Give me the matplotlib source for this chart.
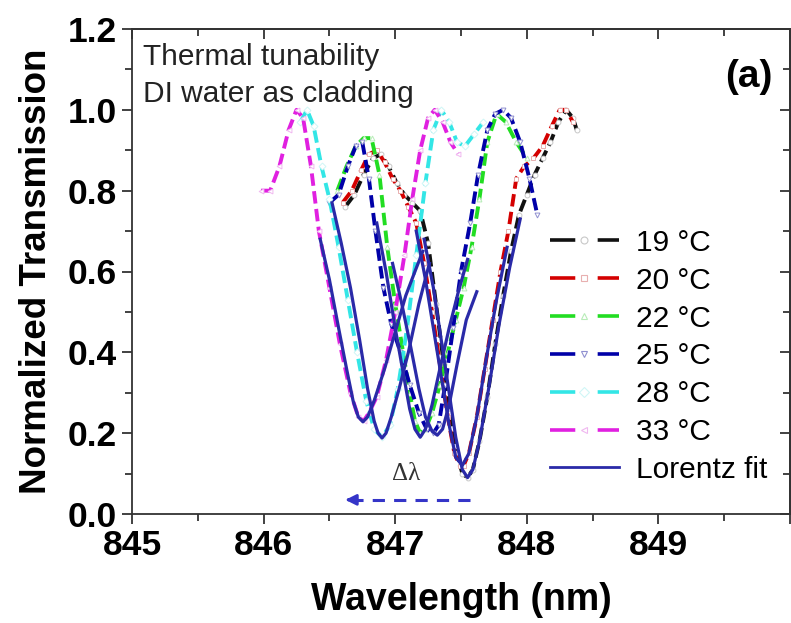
import matplotlib
matplotlib.use('Agg')
import matplotlib.pyplot as plt
from matplotlib.lines import Line2D
from matplotlib.ticker import MultipleLocator

plt.rcParams['font.family'] = ['Liberation Sans', 'DejaVu Sans']

# ---------------- data ----------------
labels = ['19 °C', '20 °C', '22 °C', '25 °C', '28 °C', '33 °C']

wl_19 = [846.62, 846.69, 846.76, 846.83, 846.89, 846.95, 847.01, 847.07, 847.13, 847.19, 847.25, 847.31,
         847.37, 847.42, 847.47, 847.51, 847.55, 847.59, 847.64, 847.70, 847.76, 847.82, 847.88, 847.94,
         848.00, 848.06, 848.12, 848.18, 848.24, 848.30, 848.35, 848.38]
tr_19 = [0.76, 0.79, 0.84, 0.88, 0.89, 0.86, 0.82, 0.79, 0.77, 0.75, 0.67, 0.52,
         0.37, 0.25, 0.15, 0.10, 0.09, 0.11, 0.18, 0.29, 0.42, 0.54, 0.65, 0.74,
         0.79, 0.84, 0.88, 0.92, 0.97, 1.00, 0.98, 0.95]

wl_20 = [846.60, 846.67, 846.74, 846.80, 846.86, 846.92, 846.98, 847.04, 847.10, 847.16, 847.22, 847.28,
         847.34, 847.40, 847.45, 847.49, 847.52, 847.56, 847.62, 847.68, 847.74, 847.80, 847.86, 847.92,
         847.98, 848.05, 848.12, 848.19, 848.25, 848.30, 848.35]
tr_20 = [0.77, 0.80, 0.85, 0.89, 0.90, 0.87, 0.83, 0.80, 0.76, 0.72, 0.62, 0.50,
         0.37, 0.24, 0.15, 0.12, 0.12, 0.15, 0.24, 0.36, 0.48, 0.60, 0.70, 0.83,
         0.86, 0.88, 0.91, 0.96, 1.00, 1.00, 0.97]

wl_22 = [846.56, 846.63, 846.70, 846.76, 846.82, 846.88, 846.94, 847.00, 847.06, 847.11, 847.15, 847.19,
         847.23, 847.28, 847.34, 847.40, 847.46, 847.52, 847.58, 847.64, 847.70, 847.77, 847.84, 847.92,
         848.00]
tr_22 = [0.80, 0.86, 0.91, 0.93, 0.93, 0.84, 0.66, 0.52, 0.40, 0.30, 0.23, 0.20,
         0.21, 0.25, 0.32, 0.40, 0.48, 0.56, 0.66, 0.78, 0.92, 0.99, 0.97, 0.92,
         0.88]

wl_25 = [846.50, 846.57, 846.64, 846.70, 846.75, 846.80, 846.85, 846.91, 846.97, 847.04, 847.11, 847.18,
         847.24, 847.29, 847.33, 847.38, 847.44, 847.50, 847.57, 847.63, 847.70, 847.76, 847.82, 847.88,
         847.95, 848.02, 848.08]
tr_25 = [0.77, 0.79, 0.86, 0.91, 0.92, 0.83, 0.70, 0.56, 0.47, 0.40, 0.32, 0.25,
         0.21, 0.20, 0.22, 0.32, 0.46, 0.60, 0.72, 0.84, 0.95, 0.99, 1.00, 0.98,
         0.92, 0.83, 0.74]

wl_28 = [846.28, 846.33, 846.38, 846.44, 846.50, 846.57, 846.64, 846.71, 846.78, 846.84, 846.90, 846.96,
         847.02, 847.09, 847.16, 847.23, 847.29, 847.35, 847.41, 847.47, 847.53, 847.60, 847.67]
tr_28 = [0.97, 1.00, 0.96, 0.86, 0.78, 0.66, 0.53, 0.40, 0.28, 0.21, 0.19, 0.22,
         0.31, 0.46, 0.64, 0.82, 0.95, 1.00, 0.97, 0.92, 0.91, 0.94, 0.97]

wl_33 = [845.98, 846.05, 846.12, 846.19, 846.25, 846.30, 846.36, 846.42, 846.50, 846.58, 846.66, 846.72,
         846.76, 846.80, 846.86, 846.93, 847.00, 847.07, 847.13, 847.19, 847.25, 847.30, 847.36, 847.42,
         847.48]
tr_33 = [0.80, 0.80, 0.86, 0.95, 1.00, 0.98, 0.86, 0.70, 0.56, 0.42, 0.30, 0.24,
         0.23, 0.25, 0.29, 0.38, 0.50, 0.64, 0.78, 0.90, 0.98, 1.00, 0.97, 0.92,
         0.89]

# Lorentz fits
fit_wl_33 = [846.43, 846.50, 846.57, 846.63, 846.68, 846.72, 846.755, 846.79, 846.84, 846.92, 847.00, 847.08, 847.15, 847.21]
fit_tr_33 = [0.68, 0.58, 0.46, 0.36, 0.28, 0.24, 0.228, 0.24, 0.28, 0.36, 0.45, 0.54, 0.60, 0.65]

fit_wl_28 = [846.52, 846.59, 846.66, 846.73, 846.79, 846.84, 846.87, 846.90, 846.93, 846.97, 847.03, 847.10, 847.18, 847.26]
fit_tr_28 = [0.77, 0.67, 0.56, 0.43, 0.31, 0.23, 0.20, 0.188, 0.20, 0.24, 0.31, 0.40, 0.52, 0.62]

fit_wl_22 = [846.86, 846.93, 847.00, 847.06, 847.11, 847.15, 847.19, 847.23, 847.28, 847.34, 847.41, 847.48, 847.55]
fit_tr_22 = [0.72, 0.60, 0.46, 0.35, 0.26, 0.21, 0.19, 0.21, 0.27, 0.36, 0.46, 0.55, 0.63]

fit_wl_25 = [846.98, 847.05, 847.12, 847.18, 847.23, 847.28, 847.32, 847.36, 847.41, 847.47, 847.54, 847.62]
fit_tr_25 = [0.62, 0.52, 0.41, 0.31, 0.24, 0.205, 0.195, 0.21, 0.27, 0.37, 0.48, 0.55]

fit_wl_20 = [847.16, 847.23, 847.30, 847.36, 847.41, 847.46, 847.51, 847.56, 847.62, 847.69, 847.77, 847.85]
fit_tr_20 = [0.70, 0.58, 0.44, 0.32, 0.22, 0.14, 0.12, 0.15, 0.24, 0.38, 0.53, 0.66]

fit_wl_19 = [847.22, 847.29, 847.35, 847.41, 847.46, 847.51, 847.55, 847.59, 847.64, 847.71, 847.79, 847.87, 847.95]
fit_tr_19 = [0.68, 0.56, 0.43, 0.30, 0.19, 0.11, 0.09, 0.11, 0.18, 0.31, 0.47, 0.61, 0.73]

x_ticks = [845, 846, 847, 848, 849, 850]
x_ticklabels = ['845', '846', '847', '848', '849', '']
y_ticks = [0.0, 0.2, 0.4, 0.6, 0.8, 1.0, 1.2]
y_ticklabels = ['0.0', '0.2', '0.4', '0.6', '0.8', '1.0', '1.2']

shift_start, shift_end, shift_level = 847.57, 846.60, 0.035

# ---------------- style ----------------
colors = ['#111111', '#d40000', '#22dd22', '#0000a8', '#33e6e6', '#e020e0']
pale = ['#c8c8c8', '#e8b0b0', '#b8ecb8', '#9090d0', '#d0f6f6', '#f0b8f0']
markers = ['o', 's', '^', 'v', 'D', '<']
fit_color = '#2a2aa8'

series = [(wl_19, tr_19), (wl_20, tr_20), (wl_22, tr_22), (wl_25, tr_25), (wl_28, tr_28), (wl_33, tr_33)]
fits = [(fit_wl_19, fit_tr_19), (fit_wl_20, fit_tr_20), (fit_wl_22, fit_tr_22),
        (fit_wl_25, fit_tr_25), (fit_wl_28, fit_tr_28), (fit_wl_33, fit_tr_33)]

fig = plt.figure(figsize=(7.91, 6.23), dpi=100)
ax = fig.add_axes([132 / 791, (623 - 514) / 623, 658 / 791, 485 / 623])

for (wl, tr), c, p, m in zip(series, colors, pale, markers):
    ax.plot(wl, tr, color=c, lw=2.8, dashes=(3.2, 1.4), marker=m, ms=3.5, mfc='white',
            mec=p, mew=0.7, zorder=2, solid_joinstyle='round')

for wl, tr in fits:
    ax.plot(wl, tr, color=fit_color, lw=2.3, zorder=3, solid_joinstyle='round')

# shift arrow
ax.plot([shift_start, shift_end + 0.06], [shift_level, shift_level], color='#3535c8', lw=2.2,
        dashes=(4, 3), zorder=3)
ax.annotate('', xy=(shift_end, shift_level), xytext=(shift_end + 0.08, shift_level),
            arrowprops=dict(arrowstyle='-|>', color='#3535c8', lw=2, mutation_scale=16), zorder=3)
ax.text((shift_start + shift_end) / 2, 0.100, 'Δλ', family=['Liberation Serif', 'DejaVu Serif'],
        fontsize=18, color='#333333', ha='center', va='center')

ax.set_xlim(845, 850)
ax.set_ylim(0, 1.2)
ax.set_xticks(x_ticks)
ax.set_xticklabels(x_ticklabels)
ax.set_yticks(y_ticks)
ax.set_yticklabels(y_ticklabels)
ax.xaxis.set_minor_locator(MultipleLocator(0.5))
ax.yaxis.set_minor_locator(MultipleLocator(0.1))
ax.tick_params(which='both', direction='out', width=1.3, color='#333333')
ax.tick_params(which='major', length=7, labelsize=25.5, pad=4)
ax.tick_params(which='minor', length=5)
for lab in ax.get_xticklabels() + ax.get_yticklabels():
    lab.set_fontweight('bold')
for s in ax.spines.values():
    s.set_linewidth(1.3)
    s.set_color('#333333')

top = ax.secondary_xaxis('top')
top.set_xticks(x_ticks)
top.xaxis.set_minor_locator(MultipleLocator(0.5))
top.tick_params(which='both', direction='in', width=1.3, color='#333333', labeltop=False)
top.tick_params(which='major', length=7)
top.tick_params(which='minor', length=5)
top.spines['top'].set_linewidth(1.3)
top.spines['top'].set_color('#333333')

right = ax.secondary_yaxis('right')
right.set_yticks(y_ticks)
right.yaxis.set_minor_locator(MultipleLocator(0.1))
right.tick_params(which='both', direction='in', width=1.3, color='#333333', labelright=False)
right.tick_params(which='major', length=7)
right.tick_params(which='minor', length=5)
right.spines['right'].set_linewidth(1.3)
right.spines['right'].set_color('#333333')

ax.set_xlabel('Wavelength (nm)', fontsize=27, fontweight='bold', labelpad=14)
ax.set_ylabel('Normalized Transmission', fontsize=26.5, fontweight='bold', labelpad=10)

ax.text(0.0167, 0.926, 'Thermal tunability', transform=ax.transAxes, fontsize=21.5, va='baseline', color='#222222')
ax.text(0.0167, 0.850, 'DI water as cladding', transform=ax.transAxes, fontsize=21.5, va='baseline', color='#222222')
ax.text(0.974, 0.901, '(a)', transform=ax.transAxes, fontsize=28, fontweight='bold', ha='right', va='center')

handles = [Line2D([], [], color=c, lw=2.6, dashes=(7.0, 6.2), marker=m, ms=5, mfc='white', mec=p, mew=0.8)
           for c, p, m in zip(colors, pale, markers)]
handles.append(Line2D([], [], color=fit_color, lw=2.0))
leg = ax.legend(handles, labels + ['Lorentz fit'], loc='upper left', bbox_to_anchor=(0.635, 0.588),
                frameon=False, fontsize=21.5, handlelength=2.3, handletextpad=0.6, labelspacing=0.33,
                borderaxespad=0, borderpad=0)

fig.savefig('out.png', dpi=100)
